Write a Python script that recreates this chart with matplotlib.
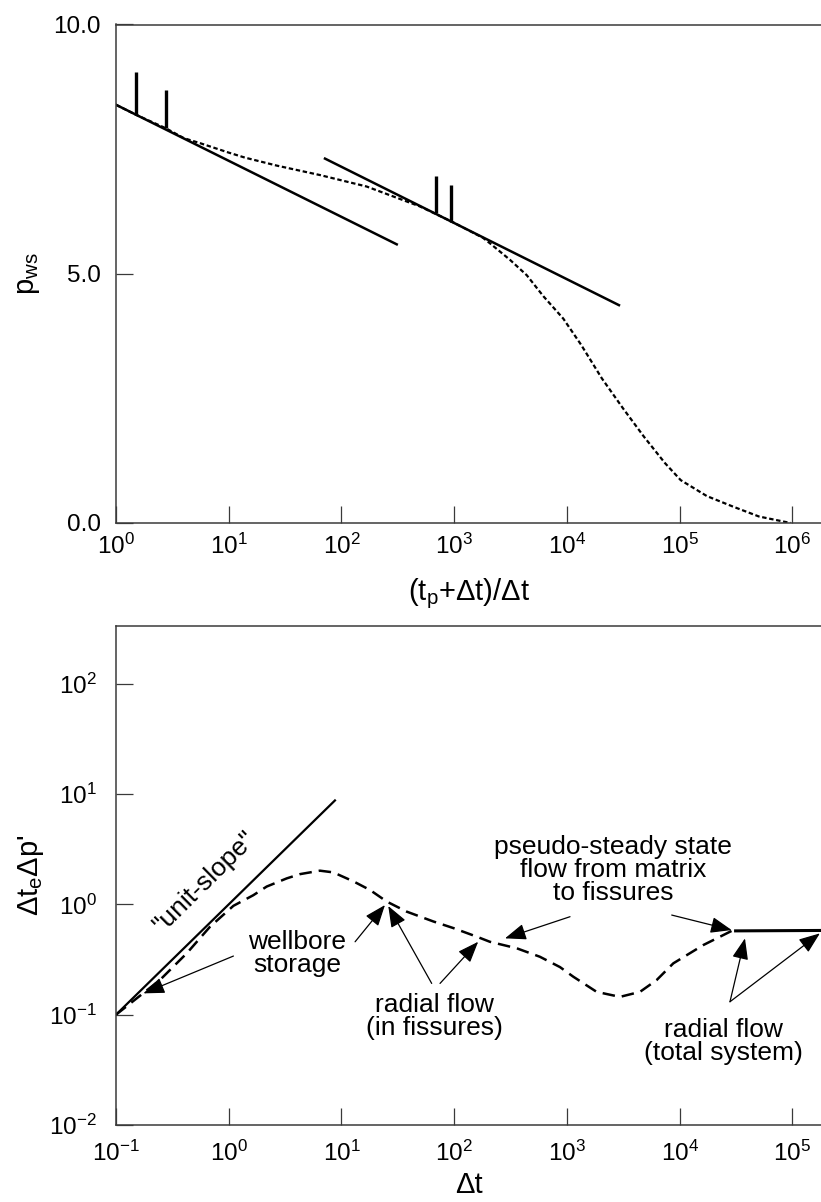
import matplotlib
matplotlib.use("Agg")
import matplotlib.pyplot as plt
from matplotlib.ticker import FixedLocator, FixedFormatter, NullLocator

plt.rcParams['font.family'] = ['Liberation Sans', 'DejaVu Sans']
plt.rcParams['mathtext.fontset'] = 'custom'
plt.rcParams['mathtext.rm'] = 'Liberation Sans'
plt.rcParams['mathtext.it'] = 'Liberation Sans'
plt.rcParams['mathtext.default'] = 'regular'

# ---- top panel: Horner plot ----
horner_x = [1, 1.5, 2.76, 4.0, 5.56, 10, 13.9, 26.6, 64.4, 167, 497, 684, 942, 1800,
            2075, 3120, 4400, 6170, 9270, 13300, 20400, 31400, 48200, 74100, 102000,
            174000, 296000, 505000, 962000]
horner_p = [8.39, 8.19, 7.92, 7.72, 7.62, 7.43, 7.33, 7.17, 6.98, 6.75, 6.35, 6.20, 6.05,
            5.72, 5.61, 5.28, 4.97, 4.55, 4.10, 3.58, 2.90, 2.30, 1.73, 1.20, 0.86,
            0.54, 0.33, 0.13, 0.0]
line1_x = [1, 309]
line1_p = [8.39, 5.59]
line2_x = [71.4, 28900]
line2_p = [7.31, 4.37]
bar_x = [1.50, 2.76, 684, 942]
bar_lo = [8.18, 7.92, 6.22, 6.04]
bar_hi = [9.05, 8.69, 6.96, 6.78]
top_xticks = [1e0, 1e1, 1e2, 1e3, 1e4, 1e5, 1e6]
top_xlabels = ['10$^{0}$', '10$^{1}$', '10$^{2}$', '10$^{3}$', '10$^{4}$', '10$^{5}$', '10$^{6}$']
top_yticks = [0.0, 5.0, 10.0]
top_ylabels = ['0.0', '5.0', '10.0']

# ---- bottom panel: derivative plot ----
deriv_x = [0.1, 0.245, 0.424, 0.682, 1.10, 1.65, 2.17, 3.27, 4.29, 6.44, 8.45, 12.7,
           17.9, 25.2, 37.8, 65.2, 98, 158, 207, 358, 575, 867, 1137, 1833, 2950, 4440,
           6240, 8770, 16200, 29900]
deriv_y = [0.1, 0.206, 0.36, 0.627, 0.97, 1.21, 1.45, 1.72, 1.88, 2.02, 1.95, 1.62,
           1.35, 1.06, 0.86, 0.70, 0.61, 0.51, 0.458, 0.40, 0.335, 0.27, 0.221, 0.161,
           0.145, 0.161, 0.206, 0.292, 0.428, 0.585]
unit_x = [0.1, 8.75]
unit_y = [0.1, 8.75]
radial_x = [31300, 180000]
radial_y = [0.575, 0.58]
bot_xticks = [1e-1, 1e0, 1e1, 1e2, 1e3, 1e4, 1e5]
bot_xlabels = ['10$^{-1}$', '10$^{0}$', '10$^{1}$', '10$^{2}$', '10$^{3}$', '10$^{4}$', '10$^{5}$']
bot_yticks = [1e-2, 1e-1, 1e0, 1e1, 1e2]
bot_ylabels = ['10$^{-2}$', '10$^{-1}$', '10$^{0}$', '10$^{1}$', '10$^{2}$']

# annotations: (text, text_xy, [(arrow_start, arrow_tip), ...])
notes = [
    ("wellbore\nstorage", (4.07, 0.362),
     [((1.10, 0.34), (0.175, 0.156)), ((13.2, 0.458), (24.3, 0.986))]),
    ("radial flow\n(in fissures)", (66.8, 0.0957),
     [((63.1, 0.192), (26.0, 0.966)), ((74.8, 0.192), (163, 0.458))]),
    ("pseudo-steady state\nflow from matrix\nto fissures", (2560, 2.05),
     [((1064, 0.773), (282, 0.492)), ((8490, 0.80), (28900, 0.585))]),
    ("radial flow\n(total system)", (24300, 0.0568),
     [((27900, 0.131), (37900, 0.492)), ((27900, 0.131), (175000, 0.546))]),
]

W, H = 821, 1202
fig = plt.figure(figsize=(W / 100, H / 100), dpi=100)
ax1 = fig.add_axes([116 / W, (H - 523) / H, (W - 116) / W, (523 - 24.5) / H])
ax2 = fig.add_axes([116 / W, (H - 1125) / H, (W - 116) / W, (1125 - 625.7) / H])

spine_col = '#3a3a3a'
for ax in (ax1, ax2):
    ax.set_xscale('log')
    for s in ('left', 'top', 'bottom'):
        ax.spines[s].set_color(spine_col)
        ax.spines[s].set_linewidth(1.1)
    ax.spines['right'].set_visible(False)
    ax.tick_params(which='major', direction='in', length=12, width=0.9, color=spine_col,
                   labelsize=17.5, pad=8)
    ax.xaxis.set_minor_locator(NullLocator())
    ax.yaxis.set_minor_locator(NullLocator())
ax1.tick_params(axis='y', pad=11)
ax2.tick_params(axis='y', pad=14)
ax2.tick_params(axis='x', pad=11)

# top panel
ax1.plot(horner_x, horner_p, color='k', lw=1.6, linestyle=(0, (2, 1.2)))
ax1.plot(line1_x, line1_p, color='k', lw=1.8)
ax1.plot(line2_x, line2_p, color='k', lw=1.8)
ax1.vlines(bar_x, bar_lo, bar_hi, color='k', lw=2.4)
ax1.set_xlim(1, 10 ** 6.253)
ax1.set_ylim(0, 10)
ax1.xaxis.set_major_locator(FixedLocator(top_xticks))
ax1.xaxis.set_major_formatter(FixedFormatter(top_xlabels))
ax1.yaxis.set_major_locator(FixedLocator(top_yticks))
ax1.yaxis.set_major_formatter(FixedFormatter(top_ylabels))
ax1.set_xlabel('(t$_{p}$+Δt)/Δt', fontsize=21, labelpad=12)
ax1.set_ylabel('p$_{ws}$', fontsize=21, labelpad=8)

# bottom panel
ax2.set_yscale('log')
ax2.plot(unit_x, unit_y, color='k', lw=1.6)
ax2.plot(deriv_x, deriv_y, color='k', lw=1.8, linestyle=(0, (5, 2.8)))
ax2.plot(radial_x, radial_y, color='k', lw=2.2)
ax2.set_xlim(0.1, 10 ** 5.253)
ax2.set_ylim(0.01, 10 ** 2.526)
ax2.xaxis.set_major_locator(FixedLocator(bot_xticks))
ax2.xaxis.set_major_formatter(FixedFormatter(bot_xlabels))
ax2.yaxis.set_major_locator(FixedLocator(bot_yticks))
ax2.yaxis.set_major_formatter(FixedFormatter(bot_ylabels))
ax2.yaxis.set_minor_locator(NullLocator())
ax2.set_xlabel('Δt', fontsize=21, labelpad=4)
ax2.set_ylabel("Δt$_{e}$Δp'", fontsize=21, labelpad=2)

ax2.text(0.615, 1.59, '"unit-slope"', fontsize=19, rotation=44.6,
         rotation_mode='anchor', ha='center', va='center')

for label, pos, arrows in notes:
    ax2.text(pos[0], pos[1], label, fontsize=19, ha='center', va='center',
             linespacing=0.95)
    for start, tip in arrows:
        ax2.annotate('', xy=tip, xytext=start,
                     arrowprops=dict(arrowstyle='-|>,head_length=0.65,head_width=0.25',
                                     mutation_scale=20, lw=0.9, color='k',
                                     shrinkA=0, shrinkB=0))

fig.savefig('out.png', dpi=100)
